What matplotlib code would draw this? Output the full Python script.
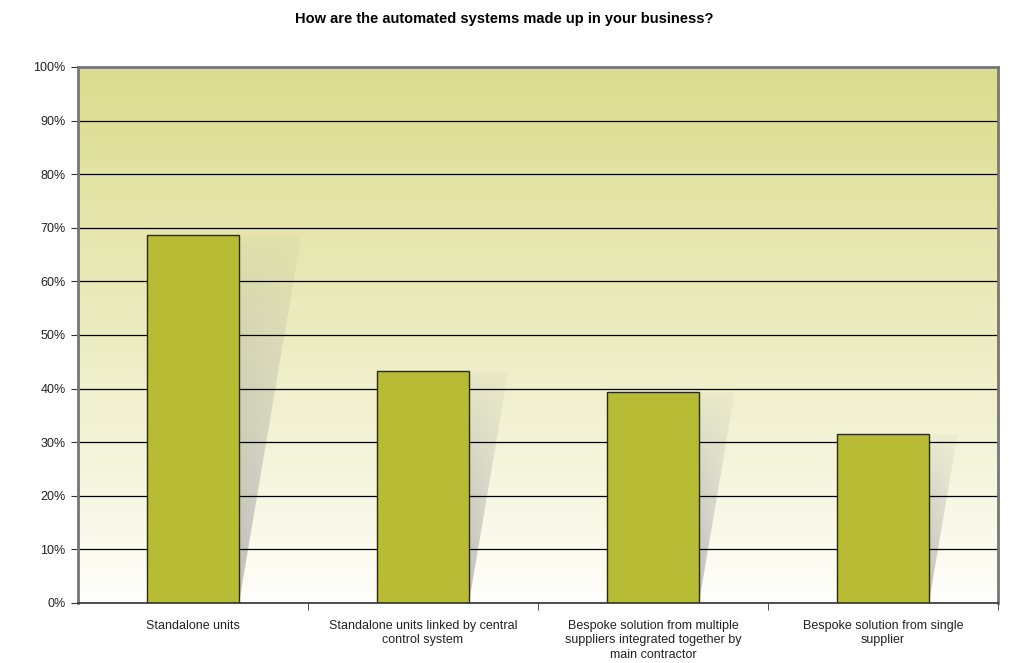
import numpy as np
import matplotlib.pyplot as plt
from matplotlib.patches import Polygon

plt.rcParams['font.family'] = ['Liberation Sans', 'DejaVu Sans']

# data
categorias = [
    "Standalone units",
    "Standalone units linked by central\ncontrol system",
    "Bespoke solution from multiple\nsuppliers integrated together by\nmain contractor",
    "Bespoke solution from single\nsupplier",
]
valores = [68.7, 43.3, 39.4, 31.5]
yticks = [0, 10, 20, 30, 40, 50, 60, 70, 80, 90, 100]
titulo = "How are the automated systems made up in your business?"

fig = plt.figure(figsize=(10.09, 6.63), dpi=100)
ax = fig.add_axes([0.0773, 0.0905, 0.9117, 0.8085])

x = np.arange(len(categorias))
ancho = 0.4
ax.set_xlim(-0.5, len(categorias) - 0.5)
ax.set_ylim(0, 100)

# fondo degradado (oliva arriba -> blanco abajo)
n = 256
t = np.linspace(0, 1, n)[:, None]
top = np.array([220, 220, 142]) / 255
bot = np.array([255, 255, 253]) / 255
grad = bot + (top - bot) * t[:, :, None] ** 0.9
grad = np.repeat(grad, 2, axis=1)
ax.imshow(grad, extent=[-0.5, len(categorias) - 0.5, 0, 100], origin='lower',
          aspect='auto', zorder=0, interpolation='bilinear')

# sombras detras de las barras
for xi, v in zip(x, valores):
    der = xi + ancho / 2
    desp = 0.00395 * v
    poly = Polygon([(xi - ancho / 2, 0), (der, 0), (der + desp, v), (xi - ancho / 2, v)],
                   closed=True, facecolor='none', edgecolor='none')
    ax.add_patch(poly)
    h, w = 100, 60
    yy = np.linspace(0, 1, h)[:, None]
    xx = np.linspace(0, 1, w)[None, :]
    alpha = 0.5 * (1 - yy) ** 0.7 * (1 - 0.5 * xx) + 0.04
    img = np.zeros((h, w, 4))
    img[..., :3] = 0.55
    img[..., 3] = np.clip(alpha, 0, 1)
    im = ax.imshow(img, extent=[der, der + desp, 0, v], origin='lower', aspect='auto',
                   zorder=1, interpolation='bilinear')
    im.set_clip_path(poly)

ax.set_yticks(yticks)
ax.yaxis.grid(True, color='black', linewidth=0.9)
ax.set_axisbelow(False)
for gl in ax.get_ygridlines():
    gl.set_zorder(2)
ax.get_ygridlines()[-1].set_visible(False)

ax.bar(x, valores, width=ancho, color='#B8BC34', edgecolor='#2a2a10',
       linewidth=1.0, zorder=3)

ax.set_yticklabels([f"{v}%" for v in yticks], fontsize=9, color='#222222')
ax.set_xticks(x)
ax.set_xticklabels(categorias, fontsize=9, color='#222222', linespacing=1.3)
ax.tick_params(axis='x', length=0, pad=12)
ax.set_xticks([0.5, 1.5, 2.5, 3.5], minor=True)
ax.tick_params(axis='x', which='minor', length=5, direction='out', color='#333333')
ax.tick_params(axis='y', length=5, direction='out', color='#333333', pad=4)

for s in ['left', 'top', 'right']:
    ax.spines[s].set_color('#777777')
    ax.spines[s].set_linewidth(2)
    ax.spines[s].set_zorder(5)
ax.spines['bottom'].set_color('#333333')
ax.spines['bottom'].set_linewidth(1.2)
ax.spines['bottom'].set_zorder(5)

fig.text(0.5, 1 - 19 / 663, titulo, ha='center', va='center', fontsize=10.5,
         fontweight='bold')

fig.savefig("out.png", dpi=100, facecolor='white')
